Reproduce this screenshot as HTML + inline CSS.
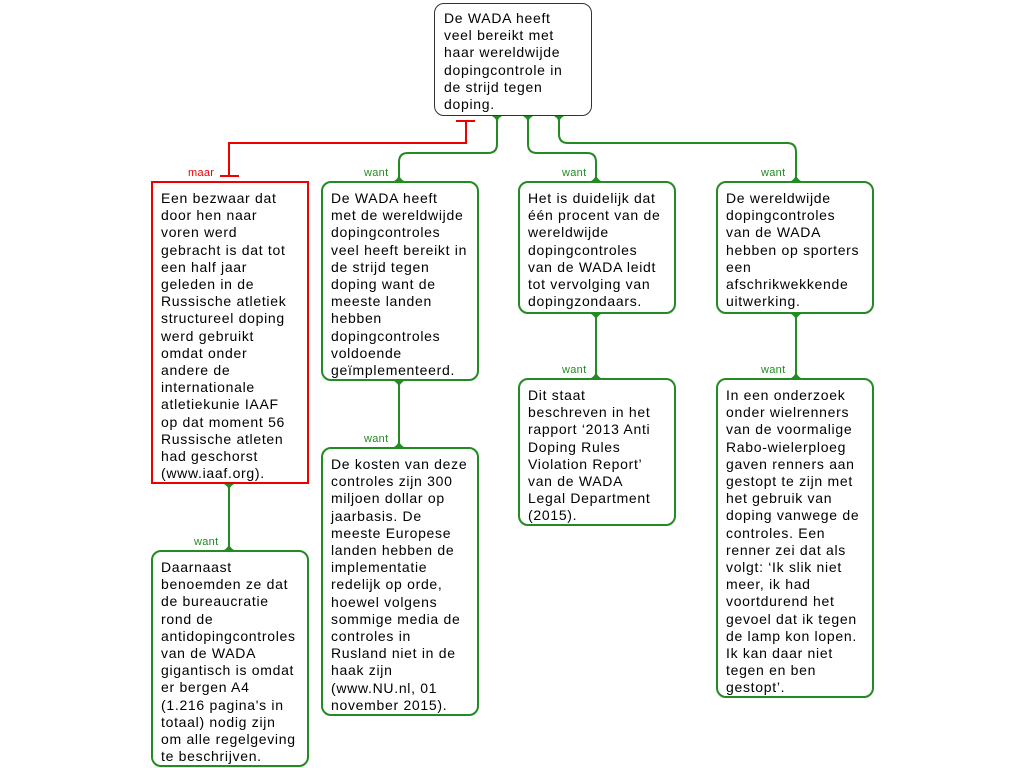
<!DOCTYPE html>
<html><head><meta charset="utf-8"><style>
body{margin:0;width:1024px;height:768px;background:#fff;position:relative;overflow:hidden;font-family:"Liberation Sans",sans-serif}
.b{position:absolute;box-sizing:border-box;border:2px solid #228b22;border-radius:10px;background:#fff;padding:7px 8px 0 8px;font-size:14px;line-height:17.2px;color:#000;white-space:nowrap;letter-spacing:0.7px}
.t{border-color:#333;border-width:1px;padding:6px 9px 0 9px}
.r{border-color:#e00;border-radius:0}
.l{position:absolute;font-size:11px;color:#228b22;letter-spacing:0.3px}
svg{position:absolute;left:0;top:0}
</style></head><body>
<svg width="1024" height="768">
<g fill="none" stroke-width="2">
<path d="M466 122 V143 H229 V176" stroke="#e00"/>
<path d="M456 121 H475 M220 176 H239" stroke="#e00"/>
<g stroke="#228b22">
<path d="M497 115 V144 Q497 153 488 153 H408 Q399 153 399 162 V182"/>
<path d="M528 115 V144 Q528 153 537 153 H587 Q596 153 596 162 V182"/>
<path d="M559 115 V134 Q559 143 568 143 H787 Q796 143 796 152 V182"/>
<path d="M399 380 V448"/>
<path d="M596 313 V379"/>
<path d="M796 313 V379"/>
<path d="M229 483 V551"/>
</g></g>
<g fill="#228b22">
<path d="M490 115 H504 Q497 118 497 124 Q497 118 490 115Z"/>
<path d="M521 115 H535 Q528 118 528 124 Q528 118 521 115Z"/>
<path d="M552 115 H566 Q559 118 559 124 Q559 118 552 115Z"/>
<path d="M392 182 H406 Q399 179 399 173 Q399 179 392 182Z"/>
<path d="M589 182 H603 Q596 179 596 173 Q596 179 589 182Z"/>
<path d="M789 182 H803 Q796 179 796 173 Q796 179 789 182Z"/>
<path d="M392 380 H406 Q399 383 399 389 Q399 383 392 380Z"/>
<path d="M392 448 H406 Q399 445 399 439 Q399 445 392 448Z"/>
<path d="M589 313 H603 Q596 316 596 322 Q596 316 589 313Z"/>
<path d="M589 379 H603 Q596 376 596 370 Q596 376 589 379Z"/>
<path d="M789 313 H803 Q796 316 796 322 Q796 316 789 313Z"/>
<path d="M789 379 H803 Q796 376 796 370 Q796 376 789 379Z"/>
<path d="M222 483 H236 Q229 486 229 492 Q229 486 222 483Z"/>
<path d="M222 551 H236 Q229 548 229 542 Q229 548 222 551Z"/>
</g>
</svg>
<div class="b t" style="left:434px;top:3px;width:158px;height:113px">De WADA heeft<br>veel bereikt met<br>haar wereldwijde<br>dopingcontrole in<br>de strijd tegen<br>doping.</div>
<div class="l" style="left:188px;top:167px;color:#e00">maar</div>
<div class="l" style="left:364px;top:167px">want</div>
<div class="l" style="left:562px;top:167px">want</div>
<div class="l" style="left:761px;top:167px">want</div>
<div class="l" style="left:364px;top:433px">want</div>
<div class="l" style="left:562px;top:364px">want</div>
<div class="l" style="left:761px;top:364px">want</div>
<div class="l" style="left:194px;top:536px">want</div>
<div class="b r" style="left:151px;top:181px;width:158px;height:303px">Een bezwaar dat<br>door hen naar<br>voren werd<br>gebracht is dat tot<br>een half jaar<br>geleden in de<br>Russische atletiek<br>structureel doping<br>werd gebruikt<br>omdat onder<br>andere de<br>internationale<br>atletiekunie IAAF<br>op dat moment 56<br>Russische atleten<br>had geschorst<br>(www.iaaf.org).</div>
<div class="b" style="left:321px;top:181px;width:158px;height:200px">De WADA heeft<br>met de wereldwijde<br>dopingcontroles<br>veel heeft bereikt in<br>de strijd tegen<br>doping want de<br>meeste landen<br>hebben<br>dopingcontroles<br>voldoende<br>geïmplementeerd.</div>
<div class="b" style="left:518px;top:181px;width:158px;height:133px">Het is duidelijk dat<br>één procent van de<br>wereldwijde<br>dopingcontroles<br>van de WADA leidt<br>tot vervolging van<br>dopingzondaars.</div>
<div class="b" style="left:716px;top:181px;width:158px;height:133px">De wereldwijde<br>dopingcontroles<br>van de WADA<br>hebben op sporters<br>een<br>afschrikwekkende<br>uitwerking.</div>
<div class="b" style="left:151px;top:550px;width:158px;height:217px">Daarnaast<br>benoemden ze dat<br>de bureaucratie<br>rond de<br>antidopingcontroles<br>van de WADA<br>gigantisch is omdat<br>er bergen A4<br>(1.216 pagina's in<br>totaal) nodig zijn<br>om alle regelgeving<br>te beschrijven.</div>
<div class="b" style="left:321px;top:447px;width:158px;height:269px">De kosten van deze<br>controles zijn 300<br>miljoen dollar op<br>jaarbasis. De<br>meeste Europese<br>landen hebben de<br>implementatie<br>redelijk op orde,<br>hoewel volgens<br>sommige media de<br>controles in<br>Rusland niet in de<br>haak zijn<br>(www.NU.nl, 01<br>november 2015).</div>
<div class="b" style="left:518px;top:378px;width:158px;height:148px">Dit staat<br>beschreven in het<br>rapport ‘2013 Anti<br>Doping Rules<br>Violation Report’<br>van de WADA<br>Legal Department<br>(2015).</div>
<div class="b" style="left:716px;top:378px;width:158px;height:320px">In een onderzoek<br>onder wielrenners<br>van de voormalige<br>Rabo-wielerploeg<br>gaven renners aan<br>gestopt te zijn met<br>het gebruik van<br>doping vanwege de<br>controles. Een<br>renner zei dat als<br>volgt: ‘Ik slik niet<br>meer, ik had<br>voortdurend het<br>gevoel dat ik tegen<br>de lamp kon lopen.<br>Ik kan daar niet<br>tegen en ben<br>gestopt’.</div>
</body></html>
